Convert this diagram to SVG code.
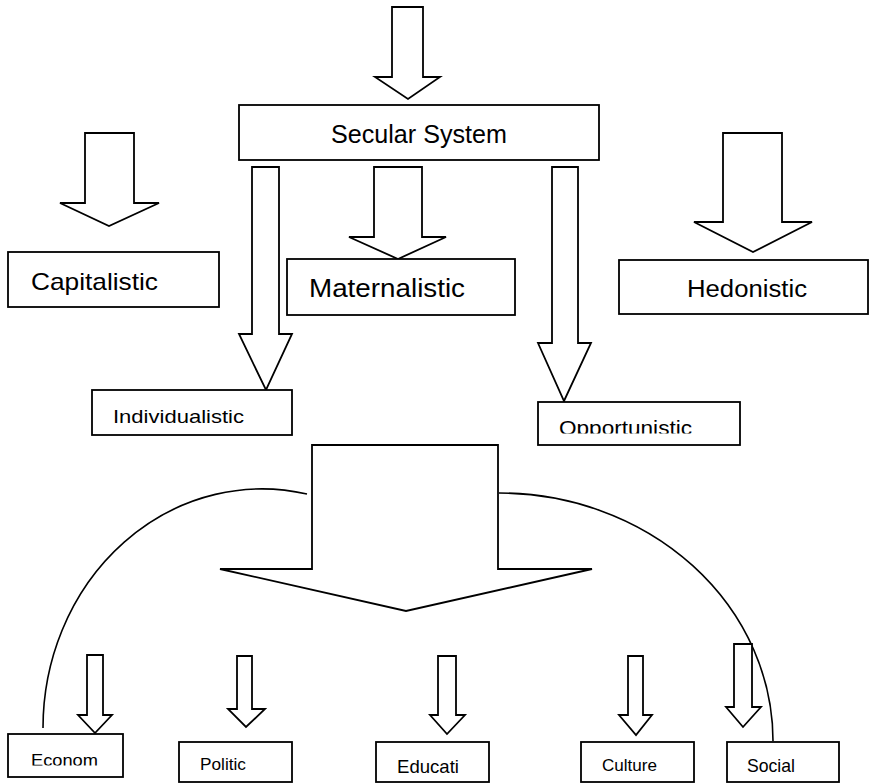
<svg xmlns="http://www.w3.org/2000/svg" width="870" height="783" viewBox="0 0 870 783">
<style>
.box{fill:#fff;stroke:#000;stroke-width:1.8}
.arr{fill:#fff;stroke:#000;stroke-width:1.8;stroke-linejoin:miter}
.arc{fill:none;stroke:#000;stroke-width:1.6}
text{font-family:"Liberation Sans",Arial,sans-serif;fill:#000}
</style>
<defs>
<clipPath id="clipOpp"><rect x="538" y="402" width="202" height="31.5"/></clipPath>
<clipPath id="clipEco"><rect x="8" y="734" width="115" height="31.5"/></clipPath>
</defs>
<rect width="870" height="783" fill="#fff"/>
<g id="connectors">
<path class="arc" d="M43,728 A219,239 0 0 1 307,494"/>
<path class="arc" d="M499,493 A274,248 0 0 1 773,741"/>
<polygon class="arr" points="392,7 423,7 423,77 440,77 408,99 375,77 392,77"/>
<polygon class="arr" points="85,133 134,133 134,203 159,203 109,226 60,203 85,203"/>
<polygon class="arr" points="252,167 279,167 279,334 292,334 266,390 239,334 252,334"/>
<polygon class="arr" points="374,167 422,167 422,237 446,237 398,259 349,237 374,237"/>
<polygon class="arr" points="552,167 578,167 578,343 591,343 564,401 538,343 552,343"/>
<polygon class="arr" points="723,133 782,133 782,222 812,222 753,252 694,222 723,222"/>
<polygon class="arr" points="312,445 498,445 498,569 592,569 406,611 220,569 312,569"/>
<polygon class="arr" points="87,655 103,655 103,715 112,715 95,733 78,715 87,715"/>
<polygon class="arr" points="237,656 252,656 252,709 265,709 246,727 228,709 237,709"/>
<polygon class="arr" points="438,656 456,656 456,715 465,715 447,734 430,715 438,715"/>
<polygon class="arr" points="628,656 643,656 643,715 652,715 636,735 619,715 628,715"/>
<polygon class="arr" points="734,644 752,644 752,707 761,707 743,727 726,707 734,707"/>
</g>
<g id="secular"><rect class="box" x="239" y="105" width="360" height="55"/><text x="331" y="143" font-size="25" textLength="176" lengthAdjust="spacingAndGlyphs">Secular System</text></g>
<g id="capitalistic"><rect class="box" x="8" y="252" width="211" height="55"/><text x="31" y="290" font-size="24" textLength="127" lengthAdjust="spacingAndGlyphs">Capitalistic</text></g>
<g id="maternalistic"><rect class="box" x="287" y="259" width="228" height="56"/><text x="309" y="297" font-size="25" textLength="156" lengthAdjust="spacingAndGlyphs">Maternalistic</text></g>
<g id="hedonistic"><rect class="box" x="619" y="260" width="249" height="54"/><text x="687" y="297" font-size="23" textLength="120" lengthAdjust="spacingAndGlyphs">Hedonistic</text></g>
<g id="individualistic"><rect class="box" x="92" y="390" width="200" height="45"/><text x="113" y="423" font-size="19" textLength="131" lengthAdjust="spacingAndGlyphs">Individualistic</text></g>
<g id="opportunistic"><rect class="box" x="538" y="402" width="202" height="43"/><text clip-path="url(#clipOpp)" x="559" y="435" font-size="20" textLength="133" lengthAdjust="spacingAndGlyphs">Opportunistic</text></g>
<g id="econom"><rect class="box" x="8" y="734" width="115" height="43"/><text clip-path="url(#clipEco)" x="31" y="766" font-size="17" textLength="67" lengthAdjust="spacingAndGlyphs">Econom</text></g>
<g id="politic"><rect class="box" x="179" y="742" width="113" height="40"/><text x="200" y="770" font-size="17" textLength="46" lengthAdjust="spacingAndGlyphs">Politic</text></g>
<g id="educati"><rect class="box" x="376" y="742" width="113" height="40"/><text x="397" y="773" font-size="19" textLength="62" lengthAdjust="spacingAndGlyphs">Educati</text></g>
<g id="culture"><rect class="box" x="581" y="742" width="113" height="40"/><text x="602" y="771" font-size="17" textLength="55" lengthAdjust="spacingAndGlyphs">Culture</text></g>
<g id="social"><rect class="box" x="727" y="742" width="112" height="40"/><text x="747" y="772" font-size="19" textLength="48" lengthAdjust="spacingAndGlyphs">Social</text></g>
</svg>
